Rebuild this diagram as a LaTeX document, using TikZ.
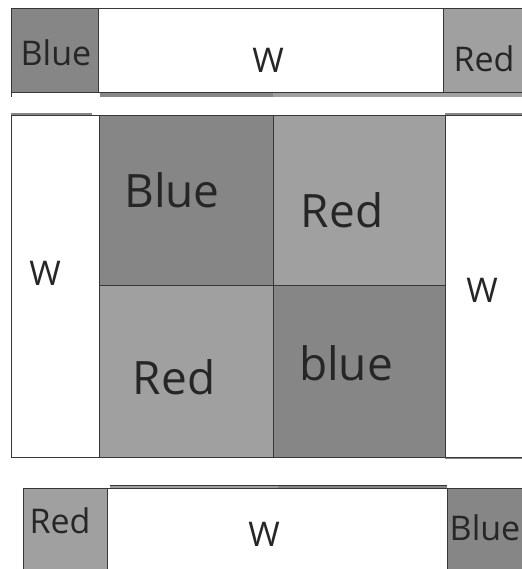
\documentclass[tikz,border=0pt]{standalone}
\usepackage{fontspec}
\setmainfont{Open Sans}
\usetikzlibrary{positioning}
\definecolor{Ink}{RGB}{38,38,38}
\definecolor{Edge}{RGB}{55,55,55}
\definecolor{BlueGray}{RGB}{134,134,134}
\definecolor{RedGray}{RGB}{160,160,160}
\tikzset{
  box/.style={draw=Edge,line width=.9pt,inner sep=0pt,anchor=north west},
  blueBox/.style={box,fill=BlueGray},
  redBox/.style={box,fill=RedGray},
  whiteBox/.style={box,fill=white},
  hand/.style={font=\fontsize{34}{40}\selectfont,text=Ink,inner sep=0pt},
  handBig/.style={font=\fontsize{46}{52}\selectfont,text=Ink,inner sep=0pt},
  strip/.style={draw=none}
}

\begin{document}
\begin{tikzpicture}[x=1pt,y=-1pt]
  \useasboundingbox (0,0) rectangle (521,569);
  % thin edges of the cut pieces
  \fill[strip,BlueGray] (100,92) rectangle (273,97);
  \fill[strip,RedGray] (273,92) rectangle (445,97);
  \fill[strip,RedGray] (445,92) rectangle (525,97);
  \draw[Edge,line width=.9pt] (11,92) -- (11,97);
  \fill[strip,BlueGray] (11,113) rectangle (92,117);
  \fill[strip,BlueGray] (445,113) rectangle (525,117);
  \fill[strip,BlueGray] (445,455) rectangle (525,459);
  \fill[strip,RedGray] (110,485) rectangle (278,490);
  \fill[strip,BlueGray] (278,485) rectangle (447,490);
  \draw[Edge,line width=.9pt] (110,485) -- (447,485);
  % top row
  \node[blueBox,minimum width=87pt,minimum height=84pt] (topBlue) at (11,8) {};
  \node[whiteBox,minimum width=345pt,minimum height=84pt] (topW) at (98,8) {};
  \node[redBox,minimum width=84pt,minimum height=84pt] (topRed) at (443,8) {};
  \node[hand] (topBlueTxt) at (56,53) {Blue};
  \node[hand] (topWTxt) at (268,60) {W};
  \node[hand] (topRedTxt) at (484,59) {Red};
  % middle block
  \node[whiteBox,minimum width=88pt,minimum height=342pt] (midLeftW) at (11,115) {};
  \node[blueBox,minimum width=174pt,minimum height=170pt] (cellA) at (99,115) {};
  \node[redBox,minimum width=172pt,minimum height=170pt] (cellB) at (273,115) {};
  \node[redBox,minimum width=174pt,minimum height=172pt] (cellC) at (99,285) {};
  \node[blueBox,minimum width=172pt,minimum height=172pt] (cellD) at (273,285) {};
  \node[whiteBox,minimum width=82pt,minimum height=342pt] (midRightW) at (445,115) {};
  \node[handBig] (cellATxt) at (172,190) {Blue};
  \node[handBig] (cellBTxt) at (342,210) {Red};
  \node[handBig] (cellCTxt) at (174,377) {Red};
  \node[handBig] (cellDTxt) at (346,363) {blue};
  \node[hand] (midLeftWTxt) at (45,273) {W};
  \node[hand] (midRightWTxt) at (482,290) {W};
  % bottom row
  \node[redBox,minimum width=84pt,minimum height=90pt] (botRed) at (23,488) {};
  \node[whiteBox,minimum width=340pt,minimum height=90pt] (botW) at (107,488) {};
  \node[blueBox,minimum width=80pt,minimum height=90pt] (botBlue) at (447,488) {};
  \node[hand] (botRedTxt) at (60,521) {Red};
  \node[hand] (botWTxt) at (264,534) {W};
  \node[hand] (botBlueTxt) at (485,528) {Blue};
\end{tikzpicture}
\end{document}
